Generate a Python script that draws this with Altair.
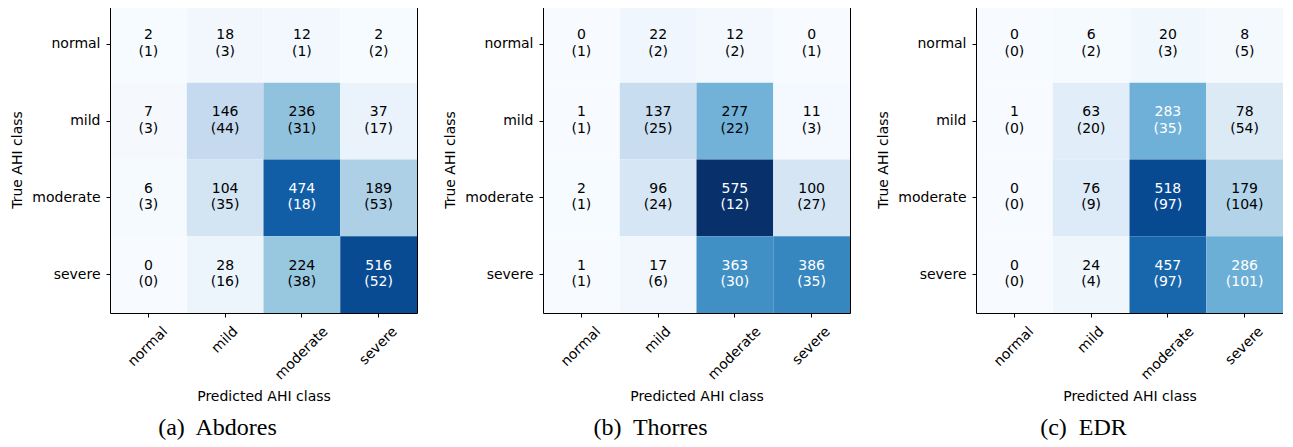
import altair as alt
import pandas as pd

classes = ["normal", "mild", "moderate", "severe"]

abdores_counts = [[2, 18, 12, 2], [7, 146, 236, 37], [6, 104, 474, 189], [0, 28, 224, 516]]
abdores_std = [[1, 3, 1, 2], [3, 44, 31, 17], [3, 35, 18, 53], [0, 16, 38, 52]]
thorres_counts = [[0, 22, 12, 0], [1, 137, 277, 11], [2, 96, 575, 100], [1, 17, 363, 386]]
thorres_std = [[1, 2, 2, 1], [1, 25, 22, 3], [1, 24, 12, 27], [1, 6, 30, 35]]
edr_counts = [[0, 6, 20, 8], [1, 63, 283, 78], [0, 76, 518, 179], [0, 24, 457, 286]]
edr_std = [[0, 2, 3, 5], [0, 20, 35, 54], [0, 9, 97, 104], [0, 4, 97, 101]]

captions = ["(a)\u00a0 Abdores", "(b)\u00a0 Thorres", "(c)\u00a0 EDR"]

blues = ["#f7fbff", "#deebf7", "#c6dbef", "#9ecae1", "#6baed6",
         "#4292c6", "#2171b5", "#08519c", "#08306b"]
vmax = max(max(max(r) for r in m) for m in [abdores_counts, thorres_counts, edr_counts])
domain = [vmax * i / 8 for i in range(9)]

FONT = "DejaVu Sans"

x_offset = {"condition": [
    {"test": "datum.value === 'normal'", "value": 17},
    {"test": "datum.value === 'mild'", "value": 10.5},
    {"test": "datum.value === 'moderate'", "value": 24},
    {"test": "datum.value === 'severe'", "value": 16.5},
], "value": 0}

xaxis = alt.Axis(labelAngle=-45, labelAlign="right", labelBaseline="middle",
                 labelOffset=x_offset, labelPadding=12, tickSize=4, tickColor="black",
                 domain=True, domainColor="black", domainWidth=1,
                 labelFont=FONT, labelFontSize=14, labelColor="black",
                 titleFont=FONT, titleFontSize=14, titleFontWeight="normal",
                 titleColor="black", titlePadding=8, minExtent=68, maxExtent=68,
                 labelOverlap=False, labelFlush=False, labelBound=False)
yaxis = alt.Axis(labelAngle=0, tickSize=4, tickColor="black", labelPadding=6,
                 domain=True, domainColor="black", domainWidth=1,
                 labelFont=FONT, labelFontSize=14, labelColor="black",
                 titleFont=FONT, titleFontSize=14, titleFontWeight="normal",
                 titleColor="black", titlePadding=6, minExtent=80, maxExtent=80,
                 labelOverlap=False)
xaxis_top = alt.Axis(orient="top", labels=False, ticks=False, title=None,
                     domain=True, domainColor="black", domainWidth=1)
yaxis_right = alt.Axis(orient="right", labels=False, ticks=False, title=None,
                       domain=True, domainColor="black", domainWidth=1)


def panel(counts, std, caption):
    rows = []
    for i, t in enumerate(classes):
        for j, p in enumerate(classes):
            rows.append({"true": t, "pred": p, "count": counts[i][j], "std": std[i][j]})
    df = pd.DataFrame(rows)
    thr = df["count"].max() / 2
    df["label"] = df["count"].astype(str) + "\n(" + df["std"].astype(str) + ")"
    df["light"] = df["count"] > thr
    rect = alt.Chart(df).mark_rect(strokeWidth=0).encode(
        x=alt.X("pred:N", sort=classes, title="Predicted AHI class", axis=xaxis),
        y=alt.Y("true:N", sort=classes, title="True AHI class", axis=yaxis),
        color=alt.Color("count:Q", scale=alt.Scale(domain=domain, range=blues, interpolate="rgb"),
                        legend=None),
    )
    text = alt.Chart(df).mark_text(font=FONT, fontSize=14, lineBreak="\n", lineHeight=16.5,
                                   baseline="middle", dy=-9).encode(
        x=alt.X("pred:N", sort=classes, axis=xaxis_top),
        y=alt.Y("true:N", sort=classes, axis=yaxis_right),
        text="label:N",
        color=alt.condition(alt.datum.light, alt.value("white"), alt.value("black")),
    )
    return alt.layer(rect, text).resolve_axis(x="independent", y="independent").properties(
        width=307, height=307,
        title=alt.TitleParams(caption, orient="bottom", anchor="middle", frame="bounds",
                              font="Liberation Serif", fontSize=24, fontWeight="normal",
                              color="black", offset=13, dx=4),
    )


chart = alt.hconcat(
    panel(abdores_counts, abdores_std, captions[0]),
    panel(thorres_counts, thorres_std, captions[1]),
    panel(edr_counts, edr_std, captions[2]),
    spacing=26,
).properties(
    padding={"left": 2, "top": -2, "right": 0, "bottom": 0}
).configure_view(stroke=None)

chart.save("out.html", embed_options={"renderer": "svg", "actions": False})
